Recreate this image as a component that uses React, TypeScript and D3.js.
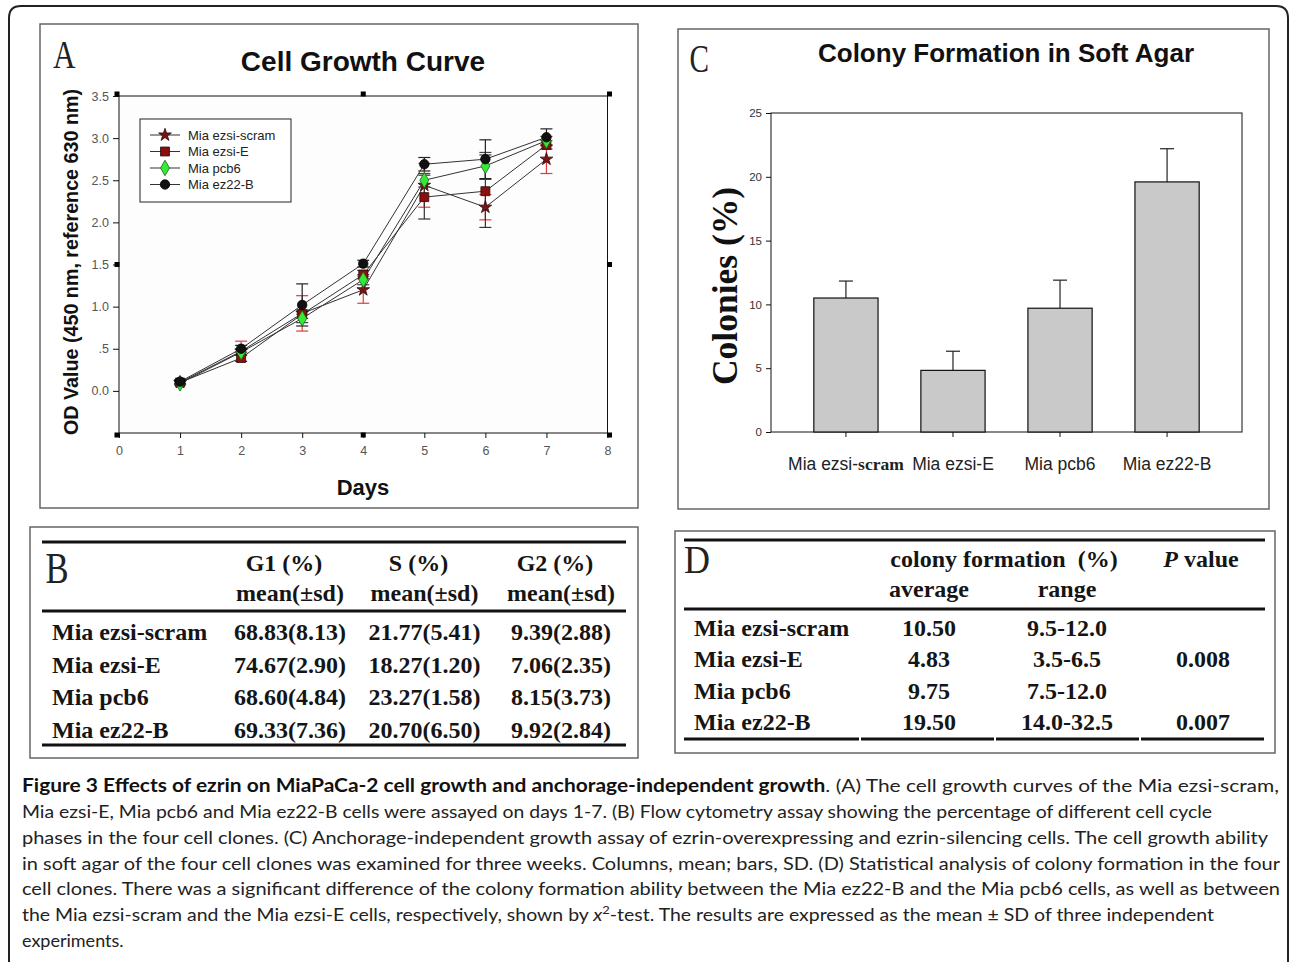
import { useEffect, useRef } from 'react'
import * as d3 from 'd3'

const W = 1290
const H = 962

// Panel A: cell growth curve, OD value by day
const days = [1, 2, 3, 4, 5, 6, 7]
const growthNames = ['Mia ezsi-scram', 'Mia ezsi-E', 'Mia pcb6', 'Mia ez22-B']
const scramOD = [0.10, 0.47, 0.92, 1.20, 2.44, 2.18, 2.75]
const scramSD = [0.02, 0.12, 0.21, 0.16, 0.26, 0.15, 0.17]
const ezsiEOD = [0.10, 0.39, 0.91, 1.38, 2.30, 2.37, 2.92]
const ezsiESD = [0.02, 0.04, 0.05, 0.05, 0.26, 0.43, 0.05]
const pcb6OD = [0.09, 0.46, 0.86, 1.32, 2.50, 2.67, 2.97]
const pcb6SD = [0.02, 0.04, 0.05, 0.06, 0.08, 0.16, 0.05]
const ez22OD = [0.11, 0.50, 1.02, 1.51, 2.69, 2.75, 3.01]
const ez22SD = [0.02, 0.04, 0.25, 0.04, 0.08, 0.23, 0.10]
const odTicks = [0, 0.5, 1, 1.5, 2, 2.5, 3, 3.5]
const dayTicks = [0, 1, 2, 3, 4, 5, 6, 7, 8]

// Panel C: colonies in soft agar
const colonyGroups = ['Mia ezsi-scram', 'Mia ezsi-E', 'Mia pcb6', 'Mia ez22-B']
const colonyMean = [10.5, 4.83, 9.7, 19.6]
const colonySD = [1.33, 1.5, 2.2, 2.6]
const colonyTicks = [0, 5, 10, 15, 20, 25]

// Panel B: cell cycle table
const cellLines = ['Mia ezsi-scram', 'Mia ezsi-E', 'Mia pcb6', 'Mia ez22-B']
const cycleHeaders = ['G1 (%)', 'S (%)', 'G2 (%)']
const g1Values = ['68.83(8.13)', '74.67(2.90)', '68.60(4.84)', '69.33(7.36)']
const sValues = ['21.77(5.41)', '18.27(1.20)', '23.27(1.58)', '20.70(6.50)']
const g2Values = ['9.39(2.88)', '7.06(2.35)', '8.15(3.73)', '9.92(2.84)']

// Panel D: colony formation table
const avgValues = ['10.50', '4.83', '9.75', '19.50']
const rangeValues = ['9.5-12.0', '3.5-6.5', '7.5-12.0', '14.0-32.5']
const pValues = ['', '0.008', '', '0.007']

const captionEnds = [1279, 1212, 1268, 1280, 1280, 1214]

const SANS = 'Arial, "Liberation Sans", sans-serif'
const SERIF = '"Times New Roman", "Liberation Serif", serif'

type Sel = d3.Selection<SVGSVGElement, unknown, null, undefined>

function panelLetter(svg: Sel, ch: string, x: number, y: number, size: number, sx: number) {
  svg
    .append('text')
    .attr('transform', `translate(${x},${y}) scale(${sx},1)`)
    .attr('font-family', SERIF)
    .attr('font-size', size)
    .attr('fill', '#222')
    .text(ch)
}

function drawGrowth(svg: Sel) {
  svg.append('rect').attr('x', 40).attr('y', 24).attr('width', 598).attr('height', 484)
    .attr('fill', '#fff').attr('stroke', '#666').attr('stroke-width', 1.5)
  panelLetter(svg, 'A', 53, 68, 40, 0.78)

  const x = d3.scaleLinear().domain([0, 8]).range([119, 607.5])
  const y = d3.scaleLinear().domain([-0.5, 3.5]).range([433, 96])
  const g = svg.append('g')

  g.append('rect').attr('x', x(0)).attr('y', y(3.5))
    .attr('width', x(8) - x(0)).attr('height', y(-0.5) - y(3.5))
    .attr('fill', '#fdfdfd').attr('stroke', '#111')

  const yAxis = g.append('g').attr('transform', `translate(${x(0)},0)`)
    .call(d3.axisLeft(y).tickValues(odTicks).tickSize(6).tickPadding(4)
      .tickFormat((d) => (d === 0.5 ? '.5' : (+d).toFixed(1))))
  const xAxis = g.append('g').attr('transform', `translate(0,${y(-0.5)})`)
    .call(d3.axisBottom(x).tickValues(dayTicks).tickSize(5).tickPadding(8).tickFormat(d3.format('d')))
  for (const a of [yAxis, xAxis]) {
    a.select('.domain').remove()
    a.selectAll('line').attr('stroke', '#111')
    a.selectAll('text').attr('font-family', SANS).attr('font-size', 12.5).attr('fill', '#555')
  }

  // selection handles around the frame
  const hx = [x(0) - 2, x(4), x(8) + 2]
  const hy = [y(3.5) - 2, y(1.5), y(-0.5) + 2]
  hx.forEach((px, i) => hy.forEach((py, j) => {
    if (i === 1 && j === 1) return
    g.append('rect').attr('x', px - 2.5).attr('y', py - 2.5).attr('width', 5).attr('height', 5).attr('fill', '#000')
  }))

  const series = [
    { name: growthNames[0], od: scramOD, sd: scramSD, sym: d3.symbolStar, size: 50, fill: '#7a1414', stroke: '#2a0a0a', err: '#e23a3f' },
    { name: growthNames[1], od: ezsiEOD, sd: ezsiESD, sym: d3.symbolSquare, size: 80, fill: '#8a0f0f', stroke: '#2a0a0a', err: '#333' },
    { name: growthNames[2], od: pcb6OD, sd: pcb6SD, sym: d3.symbolDiamond, size: 70, fill: '#35ea35', stroke: '#1f5f1f', err: '#444' },
    { name: growthNames[3], od: ez22OD, sd: ez22SD, sym: d3.symbolCircle, size: 70, fill: '#111', stroke: '#000', err: '#222' },
  ]

  // error bars
  series.forEach((s) => {
    days.forEach((d, i) => {
      const lo = y(s.od[i] - s.sd[i])
      const hi = y(s.od[i] + s.sd[i])
      g.append('line').attr('x1', x(d)).attr('x2', x(d)).attr('y1', lo).attr('y2', hi)
        .attr('stroke', s.err).attr('stroke-width', 1.2)
      for (const yy of [lo, hi]) {
        g.append('line').attr('x1', x(d) - 6).attr('x2', x(d) + 6).attr('y1', yy).attr('y2', yy)
          .attr('stroke', s.err).attr('stroke-width', 1.2)
      }
    })
  })

  const line = d3.line<number>().x((_, i) => x(days[i])).y((v) => y(v))
  series.forEach((s) => {
    g.append('path').attr('d', line(s.od)).attr('fill', 'none').attr('stroke', '#333').attr('stroke-width', 1)
  })
  series.forEach((s) => {
    const sym = d3.symbol().type(s.sym).size(s.size)
    g.selectAll(null).data(s.od).enter().append('path')
      .attr('transform', (v, i) => `translate(${x(days[i])},${y(v)})`)
      .attr('d', sym).attr('fill', s.fill).attr('stroke', s.stroke).attr('stroke-width', 0.8)
  })

  // legend
  const lg = g.append('g')
  lg.append('rect').attr('x', 140).attr('y', 119).attr('width', 151).attr('height', 83)
    .attr('fill', '#fff').attr('stroke', '#222')
  series.forEach((s, i) => {
    const ly = 135 + i * 16.5
    lg.append('line').attr('x1', 150).attr('x2', 180).attr('y1', ly).attr('y2', ly).attr('stroke', '#333')
    lg.append('path').attr('transform', `translate(165,${ly})`)
      .attr('d', d3.symbol().type(s.sym).size(s.size)).attr('fill', s.fill).attr('stroke', s.stroke).attr('stroke-width', 0.8)
    lg.append('text').attr('x', 188).attr('y', ly).attr('dy', '0.35em')
      .attr('font-family', SANS).attr('font-size', 13).attr('fill', '#222').text(s.name)
  })

  svg.append('text').attr('x', 363).attr('y', 71).attr('text-anchor', 'middle')
    .attr('font-family', SANS).attr('font-weight', 'bold').attr('font-size', 28)
    .attr('fill', '#111').text('Cell Growth Curve')
  svg.append('text').attr('x', 363).attr('y', 495).attr('text-anchor', 'middle')
    .attr('font-family', SANS).attr('font-weight', 'bold').attr('font-size', 22)
    .attr('fill', '#111').text('Days')
  svg.append('text').attr('transform', 'translate(78,262) rotate(-90)').attr('text-anchor', 'middle')
    .attr('font-family', SANS).attr('font-weight', 'bold').attr('font-size', 20)
    .attr('textLength', 346).attr('lengthAdjust', 'spacingAndGlyphs')
    .attr('fill', '#111').text('OD Value (450 nm, reference 630 nm)')
}

function drawColonies(svg: Sel) {
  svg.append('rect').attr('x', 678).attr('y', 29).attr('width', 591).attr('height', 480)
    .attr('fill', '#fff').attr('stroke', '#666').attr('stroke-width', 1.5)
  panelLetter(svg, 'C', 689.5, 71.5, 40, 0.73)

  const x = d3.scaleBand().domain(colonyGroups).range([771, 1242]).paddingInner(0.4).paddingOuter(0.4)
  const y = d3.scaleLinear().domain([0, 25]).range([432, 113])
  const g = svg.append('g')

  g.append('rect').attr('x', 771).attr('y', y(25)).attr('width', 1242 - 771).attr('height', y(0) - y(25))
    .attr('fill', '#fff').attr('stroke', '#111')

  const yAxis = g.append('g').attr('transform', 'translate(771,0)')
    .call(d3.axisLeft(y).tickValues(colonyTicks).tickSize(5).tickPadding(4))
  yAxis.select('.domain').remove()
  yAxis.selectAll('line').attr('stroke', '#111')
  yAxis.selectAll('text').attr('font-family', SANS).attr('font-size', 11.5).attr('fill', '#333')

  colonyGroups.forEach((c, i) => {
    const cx = (x(c) as number) + x.bandwidth() / 2
    g.append('line').attr('x1', cx).attr('x2', cx).attr('y1', y(0)).attr('y2', y(0) + 5).attr('stroke', '#111')
    g.append('line').attr('x1', cx).attr('x2', cx).attr('y1', y(colonyMean[i])).attr('y2', y(colonyMean[i] + colonySD[i]))
      .attr('stroke', '#222').attr('stroke-width', 1.2)
    g.append('line').attr('x1', cx - 7).attr('x2', cx + 7)
      .attr('y1', y(colonyMean[i] + colonySD[i])).attr('y2', y(colonyMean[i] + colonySD[i]))
      .attr('stroke', '#222').attr('stroke-width', 1.2)
    g.append('rect').attr('x', x(c) as number).attr('y', y(colonyMean[i]))
      .attr('width', x.bandwidth()).attr('height', y(0) - y(colonyMean[i]))
      .attr('fill', '#c9c9c9').attr('stroke', '#111').attr('stroke-width', 1.2)

    const t = g.append('text').attr('x', cx).attr('y', 470).attr('text-anchor', 'middle')
      .attr('font-family', SANS).attr('font-size', 17.5).attr('fill', '#222')
    if (c.endsWith('scram')) {
      t.append('tspan').text(c.replace('scram', ''))
      t.append('tspan').attr('font-family', SERIF).attr('font-weight', 'bold').text('scram')
    } else {
      t.text(c)
    }
  })

  svg.append('text').attr('x', 1006).attr('y', 62).attr('text-anchor', 'middle')
    .attr('font-family', SANS).attr('font-weight', 'bold').attr('font-size', 26)
    .attr('fill', '#111').text('Colony Formation in Soft Agar')
  svg.append('text').attr('transform', 'translate(737,286) rotate(-90)').attr('text-anchor', 'middle')
    .attr('font-family', SERIF).attr('font-weight', 'bold').attr('font-size', 36)
    .attr('textLength', 198).attr('lengthAdjust', 'spacingAndGlyphs')
    .attr('fill', '#111').text('Colonies (%)')
}

function drawCycleTable(svg: Sel) {
  svg.append('rect').attr('x', 30).attr('y', 527).attr('width', 608).attr('height', 231)
    .attr('fill', '#fff').attr('stroke', '#666').attr('stroke-width', 1.5)
  panelLetter(svg, 'B', 45.5, 583, 45, 0.77)

  for (const ry of [542, 611, 745]) {
    svg.append('line').attr('x1', 42).attr('x2', 626).attr('y1', ry).attr('y2', ry)
      .attr('stroke', '#111').attr('stroke-width', 2.8)
  }
  const cols = [290, 424.5, 561]
  const rowY = d3.scaleLinear().domain([0, cellLines.length - 1]).range([640, 738])
  const t = svg.append('g').attr('font-family', SERIF).attr('font-weight', 'bold')
    .attr('font-size', 24).attr('fill', '#151515')

  cycleHeaders.forEach((h, j) => {
    t.append('text').attr('x', cols[j] - 6).attr('y', 571).attr('text-anchor', 'middle').text(h)
    t.append('text').attr('x', cols[j]).attr('y', 601).attr('text-anchor', 'middle').text('mean(±sd)')
  })
  cellLines.forEach((name, i) => {
    t.append('text').attr('x', 52).attr('y', rowY(i)).text(name)
    ;[g1Values, sValues, g2Values].forEach((vals, j) => {
      t.append('text').attr('x', cols[j]).attr('y', rowY(i)).attr('text-anchor', 'middle').text(vals[i])
    })
  })
}

function drawColonyTable(svg: Sel) {
  svg.append('rect').attr('x', 675).attr('y', 531).attr('width', 600).attr('height', 222)
    .attr('fill', '#fff').attr('stroke', '#666').attr('stroke-width', 1.5)
  panelLetter(svg, 'D', 684, 573, 40, 0.9)

  for (const ry of [540, 609]) {
    svg.append('line').attr('x1', 684).attr('x2', 1265).attr('y1', ry).attr('y2', ry)
      .attr('stroke', '#111').attr('stroke-width', 2.8)
  }
  const segs = [684, 860, 995, 1140, 1265]
  for (let k = 0; k < segs.length - 1; k++) {
    svg.append('line').attr('x1', segs[k] + (k ? 1 : 0)).attr('x2', segs[k + 1] - 1).attr('y1', 739).attr('y2', 739)
      .attr('stroke', '#111').attr('stroke-width', 2.8)
  }

  const cols = [929, 1067, 1203]
  const rowY = d3.scaleLinear().domain([0, cellLines.length - 1]).range([636, 730])
  const t = svg.append('g').attr('font-family', SERIF).attr('font-weight', 'bold')
    .attr('font-size', 24).attr('fill', '#151515')

  t.append('text').attr('x', 1004).attr('y', 567).attr('text-anchor', 'middle')
    .attr('xml:space', 'preserve').text('colony formation  (%)')
  const pv = t.append('text').attr('x', 1201).attr('y', 567).attr('text-anchor', 'middle')
  pv.append('tspan').attr('font-style', 'italic').text('P')
  pv.append('tspan').text(' value')
  t.append('text').attr('x', cols[0]).attr('y', 597).attr('text-anchor', 'middle').text('average')
  t.append('text').attr('x', cols[1]).attr('y', 597).attr('text-anchor', 'middle').text('range')

  cellLines.forEach((name, i) => {
    t.append('text').attr('x', 694).attr('y', rowY(i)).text(name)
    ;[avgValues, rangeValues, pValues].forEach((vals, j) => {
      t.append('text').attr('x', cols[j]).attr('y', rowY(i)).attr('text-anchor', 'middle').text(vals[i])
    })
  })
}

function drawCaption(svg: Sel) {
  const base = d3.scaleLinear().domain([0, 6]).range([792, 947])
  const font = 'Lato, "Open Sans", sans-serif'
  const mk = (i: number) => {
    const t = svg.append('text').attr('x', 22).attr('y', base(i))
      .attr('font-family', font).attr('font-size', 18).attr('fill', '#222')
    if (i < captionEnds.length) {
      t.attr('textLength', captionEnds[i] - 22).attr('lengthAdjust', 'spacingAndGlyphs')
    }
    return t
  }
  const l1 = mk(0)
  l1.append('tspan').attr('font-weight', 'bold').attr('fill', '#111')
    .text('Figure 3 Effects of ezrin on MiaPaCa-2 cell growth and anchorage-independent growth')
  l1.append('tspan').text('. (A) The cell growth curves of the Mia ezsi-scram,')
  mk(1).text('Mia ezsi-E, Mia pcb6 and Mia ez22-B cells were assayed on days 1-7. (B) Flow cytometry assay showing the percentage of different cell cycle')
  mk(2).text('phases in the four cell clones. (C) Anchorage-independent growth assay of ezrin-overexpressing and ezrin-silencing cells. The cell growth ability')
  mk(3).text('in soft agar of the four cell clones was examined for three weeks. Columns, mean; bars, SD. (D) Statistical analysis of colony formation in the four')
  mk(4).text('cell clones. There was a significant difference of the colony formation ability between the Mia ez22-B and the Mia pcb6 cells, as well as between')
  const l6 = mk(5)
  l6.append('tspan').text('the Mia ezsi-scram and the Mia ezsi-E cells, respectively, shown by ')
  l6.append('tspan').attr('font-style', 'italic').text('x')
  l6.append('tspan').attr('dy', -7).attr('font-size', 12).text('2')
  l6.append('tspan').attr('dy', 7).text('-test. The results are expressed as the mean ± SD of three independent')
  mk(6).text('experiments.')
}

export default function App() {
  const svgRef = useRef<SVGSVGElement>(null)

  useEffect(() => {
    if (!svgRef.current) return
    const svg = d3.select(svgRef.current) as Sel
    svg.selectAll('*').remove()

    // outer rounded frame
    svg.append('path')
      .attr('d', `M9,${H} L9,18 Q9,6 21,6 L1276,6 Q1288,6 1288,18 L1288,${H}`)
      .attr('fill', 'none').attr('stroke', '#222').attr('stroke-width', 2)

    drawGrowth(svg)
    drawColonies(svg)
    drawCycleTable(svg)
    drawColonyTable(svg)
    drawCaption(svg)
  }, [])

  return (
    <svg
      ref={svgRef}
      width={W}
      height={H}
      style={{ position: 'absolute', left: 0, top: 0, background: '#fff' }}
    />
  )
}
